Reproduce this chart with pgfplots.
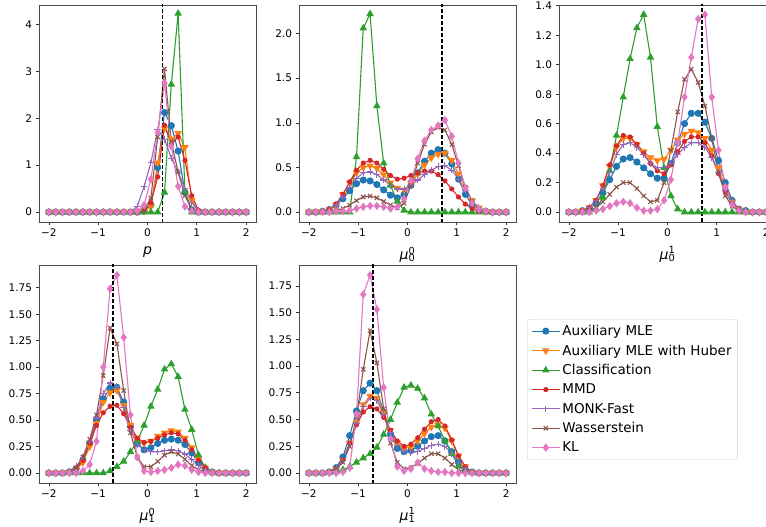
\documentclass[border=0pt]{standalone}
\usepackage{fontspec}
\setmainfont{DejaVu Sans}
\usepackage{pgfplots}
\usepackage{pgfplotstable}
\pgfplotsset{compat=1.18}

\definecolor{cA}{HTML}{1F77B4}
\definecolor{cH}{HTML}{FF7F0E}
\definecolor{cC}{HTML}{2CA02C}
\definecolor{cM}{HTML}{D62728}
\definecolor{cK}{HTML}{9467BD}
\definecolor{cW}{HTML}{8C564B}
\definecolor{cL}{HTML}{E377C2}

% columns: x, Auxiliary MLE, Auxiliary MLE with Huber, Classification, MMD, MONK-Fast, Wasserstein, KL
\pgfplotstableread{
x a h c m k w l
-2.000 0 0 0 0 0 0 0
-1.862 0 0 0 0 0 0 0
-1.724 0 0 0 0 0 0 0
-1.586 0 0 0 0 0 0 0
-1.448 0 0 0 0 0 0 0
-1.310 0 0 0 0 0 0 0
-1.172 0 0 0 0 0 0 0
-1.034 0 0 0 0 0 0 0
-0.897 0 0 0 0 0 0 0
-0.759 0 0 0 0 0 0 0
-0.621 0 0 0 0 0 0 0
-0.483 0 0 0 0 0 0 0
-0.345 0 0 0 0 0.01 0 0
-0.207 0 0 0 0 0.12 0 0.02
-0.069 0.02 0.02 0 0.05 0.55 0.05 0.15
0.069 0.15 0.12 0 0.2 1.05 0.3 0.7
0.207 0.95 1.05 0 0.75 1.75 1.6 1.7
0.345 2.12 1.78 0.42 1.85 1.55 3.05 2.75
0.483 1.84 1.55 2.72 1.45 1.15 1.5 1.4
0.621 1.3 1.68 4.23 1.6 0.85 0.85 0.55
0.759 0.42 1.38 0.44 1.1 0.5 0.35 0.12
0.897 0.05 0.25 0 0.35 0.2 0.06 0.02
1.034 0 0.02 0 0.04 0.04 0 0
1.172 0 0 0 0 0 0 0
1.310 0 0 0 0 0 0 0
1.448 0 0 0 0 0 0 0
1.586 0 0 0 0 0 0 0
1.724 0 0 0 0 0 0 0
1.862 0 0 0 0 0 0 0
2.000 0 0 0 0 0 0 0
}\tabP

\pgfplotstableread{
x a h c m k w l
-2.000 0 0 0 0 0 0 0
-1.862 0 0 0 0 0 0 0
-1.724 0.01 0.01 0 0.01 0.01 0 0
-1.586 0.03 0.03 0 0.03 0.03 0.01 0
-1.448 0.08 0.08 0 0.09 0.08 0.02 0.01
-1.310 0.15 0.2 0 0.2 0.17 0.04 0.01
-1.172 0.24 0.33 0 0.34 0.28 0.08 0.02
-1.034 0.32 0.44 0.62 0.47 0.38 0.13 0.04
-0.897 0.36 0.5 2.06 0.55 0.44 0.17 0.06
-0.759 0.35 0.52 2.22 0.58 0.45 0.18 0.07
-0.621 0.31 0.49 1.19 0.55 0.42 0.16 0.07
-0.483 0.25 0.42 0.55 0.48 0.36 0.12 0.06
-0.345 0.19 0.33 0.3 0.41 0.3 0.08 0.04
-0.207 0.16 0.27 0.12 0.37 0.26 0.05 0.06
-0.069 0.2 0.25 0.02 0.38 0.26 0.1 0.15
0.069 0.3 0.32 0 0.41 0.3 0.3 0.35
0.207 0.44 0.43 0 0.44 0.36 0.55 0.6
0.345 0.57 0.53 0 0.46 0.42 0.76 0.8
0.483 0.66 0.61 0 0.46 0.47 0.9 0.92
0.621 0.7 0.65 0 0.42 0.51 0.95 0.97
0.759 0.66 0.66 0 0.35 0.52 0.92 1.03
0.897 0.54 0.58 0 0.26 0.47 0.76 0.85
1.034 0.37 0.43 0 0.17 0.37 0.52 0.55
1.172 0.2 0.27 0 0.09 0.24 0.28 0.27
1.310 0.08 0.13 0 0.04 0.12 0.12 0.1
1.448 0.03 0.05 0 0.01 0.05 0.03 0.03
1.586 0.01 0.01 0 0 0.01 0.01 0.01
1.724 0 0 0 0 0 0 0
1.862 0 0 0 0 0 0 0
2.000 0 0 0 0 0 0 0
}\tabQ

\pgfplotstableread{
x a h c m k w l
-2.000 0 0 0 0 0 0 0
-1.862 0 0 0 0 0 0 0
-1.724 0.01 0.01 0 0.01 0.01 0 0
-1.586 0.02 0.03 0 0.03 0.03 0.01 0
-1.448 0.06 0.08 0.02 0.08 0.08 0.03 0.01
-1.310 0.13 0.18 0.1 0.18 0.16 0.07 0.02
-1.172 0.22 0.31 0.28 0.32 0.27 0.12 0.04
-1.034 0.31 0.44 0.52 0.45 0.39 0.17 0.06
-0.897 0.36 0.5 0.78 0.52 0.46 0.2 0.07
-0.759 0.37 0.5 1.04 0.51 0.47 0.2 0.06
-0.621 0.34 0.46 1.25 0.46 0.44 0.16 0.03
-0.483 0.3 0.41 1.34 0.4 0.39 0.11 0.01
-0.345 0.26 0.37 1.05 0.33 0.33 0.07 0.01
-0.207 0.23 0.35 0.58 0.28 0.3 0.08 0.02
-0.069 0.23 0.36 0.3 0.26 0.3 0.2 0.08
0.069 0.33 0.42 0.11 0.32 0.33 0.42 0.22
0.207 0.47 0.49 0.02 0.41 0.39 0.68 0.47
0.345 0.6 0.53 0 0.48 0.44 0.9 0.78
0.483 0.67 0.55 0 0.51 0.47 0.97 1.05
0.621 0.67 0.54 0 0.51 0.47 0.88 1.31
0.759 0.61 0.5 0 0.47 0.44 0.72 1.34
0.897 0.5 0.42 0 0.38 0.37 0.5 0.78
1.034 0.35 0.3 0 0.26 0.27 0.27 0.42
1.172 0.2 0.17 0 0.14 0.15 0.11 0.17
1.310 0.08 0.07 0 0.06 0.07 0.04 0.05
1.448 0.02 0.02 0 0.02 0.02 0.01 0.01
1.586 0.01 0 0 0 0 0 0
1.724 0 0 0 0 0 0 0
1.862 0 0 0 0 0 0 0
2.000 0 0 0 0 0 0 0
}\tabR

\pgfplotstableread{
x a h c m k w l
-2.000 0 0 0 0 0 0 0
-1.862 0 0 0 0 0 0 0
-1.724 0 0 0 0 0 0 0
-1.586 0.01 0.01 0 0.01 0.02 0.01 0
-1.448 0.04 0.03 0 0.04 0.06 0.05 0
-1.310 0.12 0.1 0 0.12 0.15 0.15 0.02
-1.172 0.28 0.25 0 0.28 0.3 0.32 0.08
-1.034 0.5 0.47 0 0.45 0.52 0.55 0.3
-0.897 0.7 0.67 0 0.57 0.75 0.92 1.0
-0.759 0.8 0.76 0.02 0.63 0.85 1.37 1.74
-0.621 0.81 0.78 0.06 0.64 0.82 1.22 1.87
-0.483 0.67 0.64 0.11 0.56 0.62 0.78 1.28
-0.345 0.44 0.45 0.2 0.43 0.4 0.38 0.55
-0.207 0.28 0.33 0.3 0.33 0.27 0.15 0.15
-0.069 0.22 0.28 0.45 0.29 0.22 0.06 0.02
0.069 0.24 0.3 0.63 0.3 0.2 0.06 0.01
0.207 0.28 0.35 0.79 0.33 0.2 0.11 0.02
0.345 0.31 0.38 0.98 0.36 0.21 0.17 0.03
0.483 0.32 0.4 1.03 0.38 0.22 0.2 0.05
0.621 0.31 0.39 0.91 0.37 0.21 0.18 0.08
0.759 0.27 0.33 0.6 0.31 0.18 0.13 0.07
0.897 0.19 0.24 0.41 0.22 0.13 0.07 0.03
1.034 0.1 0.13 0.17 0.12 0.07 0.03 0.01
1.172 0.04 0.05 0.05 0.05 0.03 0.01 0
1.310 0.01 0.01 0 0.01 0.01 0 0
1.448 0 0 0 0 0 0 0
1.586 0 0 0 0 0 0 0
1.724 0 0 0 0 0 0 0
1.862 0 0 0 0 0 0 0
2.000 0 0 0 0 0 0 0
}\tabS

\pgfplotstableread{
x a h c m k w l
-2.000 0 0 0 0 0 0 0
-1.862 0 0 0 0 0 0 0
-1.724 0 0 0 0 0 0 0
-1.586 0.01 0.01 0 0.01 0.01 0.01 0
-1.448 0.05 0.04 0.01 0.04 0.04 0.04 0
-1.310 0.15 0.12 0.03 0.12 0.12 0.1 0.01
-1.172 0.35 0.28 0.06 0.28 0.27 0.25 0.05
-1.034 0.58 0.47 0.1 0.45 0.46 0.52 0.55
-0.897 0.77 0.64 0.14 0.57 0.62 0.97 1.67
-0.759 0.84 0.72 0.18 0.62 0.7 1.33 1.85
-0.621 0.77 0.7 0.24 0.6 0.68 1.03 1.53
-0.483 0.57 0.57 0.36 0.52 0.55 0.6 0.8
-0.345 0.36 0.4 0.5 0.4 0.38 0.28 0.32
-0.207 0.23 0.28 0.66 0.3 0.26 0.1 0.06
-0.069 0.2 0.23 0.8 0.25 0.2 0.04 0.02
0.069 0.21 0.24 0.82 0.27 0.19 0.05 0.04
0.207 0.25 0.3 0.79 0.33 0.2 0.09 0.1
0.345 0.3 0.37 0.7 0.41 0.23 0.14 0.04
0.483 0.34 0.43 0.55 0.48 0.26 0.18 0.02
0.621 0.35 0.45 0.44 0.5 0.27 0.18 0.01
0.759 0.3 0.42 0.3 0.44 0.25 0.14 0.01
0.897 0.2 0.3 0.18 0.31 0.18 0.08 0
1.034 0.1 0.16 0.07 0.16 0.1 0.03 0
1.172 0.03 0.06 0.02 0.06 0.04 0.01 0
1.310 0.01 0.01 0 0.01 0.01 0 0
1.448 0 0 0 0 0 0 0
1.586 0 0 0 0 0 0 0
1.724 0 0 0 0 0 0 0
1.862 0 0 0 0 0 0 0
2.000 0 0 0 0 0 0 0
}\tabT

\pgfplotsset{
  panel/.style={
    scale only axis, width=217pt, height=217pt,
    xmin=-2.2, xmax=2.2,
    xtick={-2,-1,0,1,2}, xticklabels={−2,−1,0,1,2},
    tick align=outside, xtick pos=bottom, ytick pos=left,
    major tick length=3.5pt,
    tick style={black!80, line width=0.7pt},
    axis line style={black!70, line width=0.8pt},
    tick label style={font=\fontsize{10.5}{12}\selectfont},
    xlabel style={font=\fontsize{14}{16}\selectfont, yshift=-3pt},
    /pgf/number format/assume math mode=true,
    legend image code/.code={%
      \draw[mark repeat=2,mark phase=2] plot coordinates {(0pt,0pt)(14pt,0pt)(28pt,0pt)};},
  },
  sA/.style={cA, line width=1.1pt, mark=*, mark size=3pt, mark options={solid, fill=cA}},
  sH/.style={cH, line width=1.1pt, mark=triangle*, mark size=3.3pt, mark options={solid, rotate=180, fill=cH}},
  sC/.style={cC, line width=1.1pt, mark=triangle*, mark size=3.3pt, mark options={solid, fill=cC}},
  sM/.style={cM, line width=1.1pt, mark=*, mark size=2pt, mark options={solid, fill=cM}},
  sK/.style={cK, line width=1.1pt, mark=+, mark size=3.3pt, mark options={solid}},
  sW/.style={cW, line width=1.1pt, mark=x, mark size=3pt, mark options={solid}},
  sL/.style={cL, line width=1.1pt, mark=diamond*, mark size=3.3pt, mark options={solid, fill=cL}},
  truth/.style={black, dash pattern=on 4pt off 2pt, line width=1.1pt, forget plot},
}

\newcommand{\allseries}[1]{%
  \addplot[sA] table[x=x, y=a] {#1};
  \addplot[sH] table[x=x, y=h] {#1};
  \addplot[sC] table[x=x, y=c] {#1};
  \addplot[sM] table[x=x, y=m] {#1};
  \addplot[sK] table[x=x, y=k] {#1};
  \addplot[sW] table[x=x, y=w] {#1};
  \addplot[sL] table[x=x, y=l] {#1};
}

\begin{document}
\begin{tikzpicture}

% top row
\begin{axis}[panel, at={(39pt,522pt)}, anchor=north west,
  ymin=-0.21, ymax=4.41, ytick={0,1,2,3,4}, yticklabels={0,1,2,3,4},
  xlabel={\itshape p}]
  \allseries{\tabP}
  \addplot[truth] coordinates {(0.3,-1) (0.3,5)};
\end{axis}

\begin{axis}[panel, at={(299pt,522pt)}, anchor=north west,
  ymin=-0.11, ymax=2.32, ytick={0,0.5,1,1.5,2}, yticklabels={0.0,0.5,1.0,1.5,2.0},
  xlabel={\itshape μ\normalfont\rlap{\textsuperscript{0}}\textsubscript{0}}]
  \allseries{\tabQ}
  \addplot[truth] coordinates {(0.7,-1) (0.7,3)};
\end{axis}

\begin{axis}[panel, at={(559pt,522pt)}, anchor=north west,
  ymin=-0.067, ymax=1.405, ytick={0,0.2,0.4,0.6,0.8,1.0,1.2,1.4},
  yticklabels={0.0,0.2,0.4,0.6,0.8,1.0,1.2,1.4},
  xlabel={\itshape μ\normalfont\rlap{\textsuperscript{1}}\textsubscript{0}}]
  \allseries{\tabR}
  \addplot[truth] coordinates {(0.7,-1) (0.7,3)};
\end{axis}

% bottom row
\begin{axis}[panel, height=218pt, at={(39pt,262pt)}, anchor=north west,
  ymin=-0.094, ymax=1.965, ytick={0,0.25,0.5,0.75,1,1.25,1.5,1.75},
  yticklabels={0.00,0.25,0.50,0.75,1.00,1.25,1.50,1.75},
  xlabel={\itshape μ\normalfont\rlap{\textsuperscript{0}}\textsubscript{1}}]
  \allseries{\tabS}
  \addplot[truth] coordinates {(-0.7,-1) (-0.7,3)};
\end{axis}

\begin{axis}[panel, height=218pt, at={(299pt,262pt)}, anchor=north west,
  ymin=-0.093, ymax=1.945, ytick={0,0.25,0.5,0.75,1,1.25,1.5,1.75},
  yticklabels={0.00,0.25,0.50,0.75,1.00,1.25,1.50,1.75},
  xlabel={\itshape μ\normalfont\rlap{\textsuperscript{1}}\textsubscript{1}},
  legend entries={Auxiliary MLE, Auxiliary MLE with Huber, Classification, MMD, MONK-Fast, Wasserstein, KL},
  legend cell align=left,
  legend style={at={(1.051,0.752)}, anchor=north west,
    draw=black!20, rounded corners=2pt, fill=white,
    font=\fontsize{13.5}{15}\selectfont, row sep=3.8pt,
    inner xsep=4pt, inner ysep=4pt}]
  \allseries{\tabT}
  \addplot[truth] coordinates {(-0.7,-1) (-0.7,3)};
\end{axis}

\pgfresetboundingbox
\path[use as bounding box] (0pt,0pt) rectangle (766pt,527pt);
\end{tikzpicture}
\end{document}
